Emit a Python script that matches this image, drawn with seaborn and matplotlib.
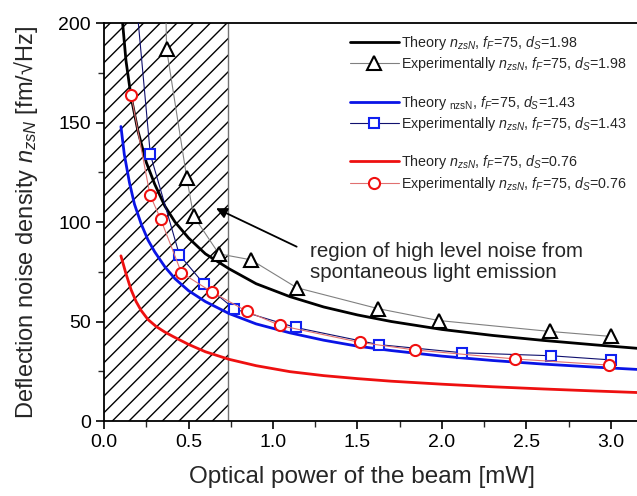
import matplotlib
matplotlib.use("Agg")
import matplotlib.pyplot as plt
import seaborn as sns
from matplotlib.lines import Line2D
from matplotlib.ticker import MultipleLocator, FormatStrFormatter

# Theory curves (optical power in mW, noise density in fm/sqrt(Hz))
theory_198_p = [0.11, 0.13, 0.16, 0.20, 0.25, 0.30, 0.36, 0.42, 0.50, 0.60, 0.74, 0.90,
                1.10, 1.30, 1.50, 1.70, 2.00, 2.30, 2.60, 2.90, 3.16]
theory_198_n = [200, 181, 163, 146, 130, 119, 108, 100, 92, 84, 76.5, 69,
                62.5, 57.3, 53.3, 50, 46, 43, 40.5, 38.3, 36.5]

theory_143_p = [0.10, 0.12, 0.15, 0.18, 0.22, 0.26, 0.30, 0.36, 0.42, 0.50, 0.60, 0.74,
                0.90, 1.10, 1.30, 1.50, 1.70, 2.00, 2.30, 2.60, 2.90, 3.16]
theory_143_n = [148, 134, 120, 109, 99, 91, 85, 77.5, 71.5, 65.5, 60, 54,
                48.8, 44.3, 40.6, 37.6, 35.4, 32.6, 30.4, 28.6, 27.1, 25.9]

theory_076_p = [0.10, 0.13, 0.16, 0.19, 0.22, 0.26, 0.31, 0.36, 0.41, 0.50, 0.60, 0.74,
                0.90, 1.10, 1.30, 1.50, 1.70, 2.00, 2.30, 2.60, 2.90, 3.16]
theory_076_n = [83, 74, 66, 60, 55.5, 51, 47.4, 44.7, 42.4, 38.5, 34.8, 31,
                27.8, 24.8, 22.8, 21.3, 20, 18.5, 17.2, 16.1, 15.1, 14.3]

# Measured points
exp_198_p = [0.355, 0.37, 0.49, 0.53, 0.68, 0.87, 1.14, 1.62, 1.98, 2.64, 3.00]
exp_198_n = [260, 187, 122, 103, 84, 81, 67, 56.5, 50.5, 45, 42.5]

exp_143_p = [0.16, 0.274, 0.446, 0.59, 0.771, 1.134, 1.625, 2.12, 2.643, 3.00]
exp_143_n = [240, 134, 83.5, 69, 56.3, 47, 38.4, 34.3, 32.8, 30.7]

exp_076_p = [0.16, 0.272, 0.335, 0.458, 0.639, 0.846, 1.041, 1.515, 1.84, 2.43, 2.988]
exp_076_n = [164, 113.6, 101.5, 74.5, 64.8, 55.1, 48, 39.5, 35.7, 31.2, 28.1]

noise_region_end = 0.733

labels = [
    r"Theory $n_{zsN}$, $f_F$=75, $d_S$=1.98",
    r"Experimentally $n_{zsN}$, $f_F$=75, $d_S$=1.98",
    r"Theory ${}_{\rm nzsN}$, $f_F$=75, $d_S$=1.43",
    r"Experimentally $n_{zsN}$, $f_F$=75, $d_S$=1.43",
    r"Theory $n_{zsN}$, $f_F$=75, $d_S$=0.76",
    r"Experimentally $n_{zsN}$, $f_F$=75, $d_S$=0.76",
]

sns.set_theme(style="ticks")
plt.rcParams["font.family"] = ["Liberation Sans", "DejaVu Sans"]
plt.rcParams["mathtext.fontset"] = "custom"
plt.rcParams["mathtext.rm"] = "Liberation Sans"
plt.rcParams["mathtext.it"] = "Liberation Sans:italic"
plt.rcParams["mathtext.bf"] = "Liberation Sans:bold"

fig = plt.figure(figsize=(6.37, 4.96), dpi=100)
ax = fig.add_axes([0.1633, 0.1512, 0.8367, 0.8024])

# hatched region of spontaneous emission noise
ax.axvspan(0, noise_region_end, facecolor="none", edgecolor="black", hatch="//",
           linewidth=0, zorder=0.5)
ax.axvline(noise_region_end, color="0.45", lw=1.0, zorder=0.6)

mk = dict(markeredgewidth=1.5, markerfacecolor="white")

sns.lineplot(x=theory_198_p, y=theory_198_n, ax=ax, color="black", lw=2.0,
             sort=False, estimator=None, label=labels[0], zorder=3)
sns.lineplot(x=exp_198_p, y=exp_198_n, ax=ax, color="0.5", lw=0.8, sort=False,
             estimator=None, marker="^", markersize=9.5, markeredgecolor="black",
             label=labels[1], zorder=4, **mk)
sns.lineplot(x=theory_143_p, y=theory_143_n, ax=ax, color="#0a14e6", lw=2.0,
             sort=False, estimator=None, label=labels[2], zorder=3)
sns.lineplot(x=exp_143_p, y=exp_143_n, ax=ax, color="#10106e", lw=0.8, sort=False,
             estimator=None, marker="s", markersize=7, markeredgecolor="#1020f0",
             label=labels[3], zorder=4, **mk)
sns.lineplot(x=theory_076_p, y=theory_076_n, ax=ax, color="#ee1010", lw=2.0,
             sort=False, estimator=None, label=labels[4], zorder=3)
sns.lineplot(x=exp_076_p, y=exp_076_n, ax=ax, color="#e07070", lw=0.8, sort=False,
             estimator=None, marker="o", markersize=8, markeredgecolor="#f01010",
             label=labels[5], zorder=4, **mk)

ax.set_xlim(0, 3.154)
ax.set_ylim(0, 200)
ax.xaxis.set_major_locator(MultipleLocator(0.5))
ax.xaxis.set_minor_locator(MultipleLocator(0.25))
ax.yaxis.set_major_locator(MultipleLocator(50))
ax.yaxis.set_minor_locator(MultipleLocator(25))
ax.xaxis.set_major_formatter(FormatStrFormatter("%.1f"))
ax.tick_params(which="major", length=6, width=1.2, labelsize=14, colors="black")
ax.tick_params(which="minor", length=4, width=1.0)
for s in ("left", "bottom", "top"):
    ax.spines[s].set_linewidth(1.3)
    ax.spines[s].set_color("black")
ax.spines["right"].set_visible(False)
ax.grid(False)

ax.set_xlabel("Optical power of the beam [mW]", fontsize=17.5)
ax.xaxis.set_label_coords(0.484, -0.114)
ax.set_ylabel("Deflection noise density $n_{zsN}$ [fm/\u221aHz]", fontsize=17,
              labelpad=13)

ax.annotate("", xy=(0.663, 106.9), xytext=(1.14, 87.6),
            arrowprops=dict(arrowstyle="-|>", color="black", lw=1.3,
                            mutation_scale=16, shrinkA=0, shrinkB=0), zorder=5)
ax.text(1.22, 79.8, "region of high level noise from\nspontaneous light emission",
        fontsize=14.8, va="center", ha="left", linespacing=1.12)

handles, labs = ax.get_legend_handles_labels()
blank = Line2D([], [], linestyle="none", label=" ")
order = [handles[0], handles[1], blank, handles[2], handles[3], blank, handles[4], handles[5]]
names = [labs[0], labs[1], " ", labs[2], labs[3], " ", labs[4], labs[5]]
ax.legend(order, names, loc="upper left", bbox_to_anchor=(0.4615, 0.972),
          frameon=False, fontsize=10.3, handlelength=3.4, handletextpad=0.2,
          labelspacing=0.225, borderpad=0, borderaxespad=0)

fig.savefig("out.png", dpi=100)
